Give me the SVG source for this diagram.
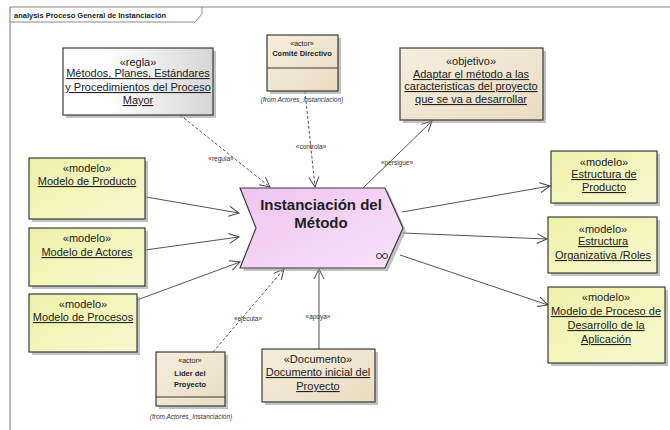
<svg xmlns="http://www.w3.org/2000/svg" width="670" height="430" viewBox="0 0 670 430">
<defs>
<linearGradient id="gY" x1="0" y1="0" x2="1" y2="1"><stop offset="0" stop-color="#eef1a8"/><stop offset="1" stop-color="#f7f8d0"/></linearGradient>
<linearGradient id="gT" x1="0" y1="0" x2="1" y2="1"><stop offset="0" stop-color="#f6eedd"/><stop offset="1" stop-color="#e9dcc3"/></linearGradient>
<linearGradient id="gW" x1="0" y1="0" x2="1" y2="0"><stop offset="0.3" stop-color="#ffffff"/><stop offset="1" stop-color="#d6d6d6"/></linearGradient>
<linearGradient id="gP" x1="0" y1="0" x2="1" y2="1"><stop offset="0" stop-color="#eec4f0"/><stop offset="1" stop-color="#f8e2fa"/></linearGradient>
<marker id="open" viewBox="0 0 12 12" refX="11" refY="6" markerWidth="12" markerHeight="12" markerUnits="userSpaceOnUse" orient="auto">
<path d="M1,1 L11,6 L1,11" fill="none" stroke="#444" stroke-width="1"/>
</marker>
</defs>
<style>
text{font-family:"Liberation Sans",Arial,sans-serif;fill:#222;text-anchor:middle}
.box{stroke:#3a3a3a;stroke-width:1.2}
.sh{fill:#9a9a9a;opacity:.6}
.t{font-size:11px}
.u{text-decoration:underline}
.s{font-size:7px}
.sb{font-size:7.5px;font-weight:bold}
.lbl{font-size:6.5px;fill:#333}
.from{font-size:6.5px;font-style:italic;fill:#333}
.c{fill:none;stroke:#555;stroke-width:1;marker-end:url(#open)}
.d{stroke-dasharray:3,2}
.sep{stroke:#3a3a3a;stroke-width:1}
</style>
<g id="frame">
<path d="M10,430 L10,7 L670,7" fill="none" stroke="#8a8a8a" stroke-width="1.2"/>
<path d="M10,22 L195,22 L202,14 L202,7" fill="none" stroke="#8a8a8a" stroke-width="1"/>
<text x="14" y="18" style="font-size:7.5px;font-weight:bold;text-anchor:start">analysis Proceso General de Instanciación</text>
</g>
<g id="connectors">
<path class="c d" d="M180,115 L270,187"/>
<text class="lbl" x="221" y="161">«regula»</text>
<path class="c d" d="M305,91 L315,187"/>
<text class="lbl" x="311" y="149">«controla»</text>
<path class="c" d="M363,188 L432,121"/>
<text class="lbl" x="397" y="165">«persigue»</text>
<path class="c" d="M146,197 L239,213"/>
<path class="c" d="M145,250 L239,237"/>
<path class="c" d="M137,300 L240,262"/>
<path class="c" d="M402,212 L550,186"/>
<path class="c" d="M403,233 L547,239"/>
<path class="c" d="M400,255 L548,305"/>
<path class="c d" d="M213,352 L284,269"/>
<text class="lbl" x="248" y="321">«ejecuta»</text>
<path class="c" d="M319,349 L319,269"/>
<text class="lbl" x="318" y="319">«apoya»</text>
</g>
<g id="regla">
<rect class="sh" x="66" y="51" width="150" height="67"/>
<rect class="box" x="63" y="48" width="150" height="67" fill="url(#gW)"/>
<text class="t" x="138" y="66">«regla»</text>
<text class="t u" x="138" y="77">Métodos, Planes, Estándares</text>
<text class="t u" x="138" y="91">y Procedimientos del Proceso</text>
<text class="t u" x="138" y="104">Mayor</text>
</g>
<g id="comite">
<rect class="sh" x="270" y="38" width="71" height="56"/>
<rect class="box" x="267" y="35" width="71" height="56" fill="url(#gT)"/>
<line class="sep" x1="267" y1="68" x2="338" y2="68"/>
<text class="s" x="302" y="46">«actor»</text>
<text class="sb" x="302" y="56">Comité Directivo</text>
<text class="from" x="302" y="102">(from Actores_Instanciación)</text>
</g>
<g id="objetivo">
<rect class="sh" x="403" y="51" width="143" height="72"/>
<rect class="box" x="400" y="48" width="143" height="72" fill="url(#gT)"/>
<text class="t" x="471" y="65">«objetivo»</text>
<text class="t u" x="471" y="78">Adaptar el método a las</text>
<text class="t u" x="471" y="90">caracteristicas del proyecto</text>
<text class="t u" x="471" y="103">que se va a desarrollar</text>
</g>
<g id="instanciacion">
<path d="M243,191 L388,191 L406,231 L388,271 L243,271 L259,231 Z" class="sh"/>
<path d="M240,188 L385,188 L403,228 L385,268 L240,268 L256,228 Z" fill="url(#gP)" stroke="#3a3a3a" stroke-width="1.2"/>
<text x="321" y="210" style="font-size:15px;font-weight:bold">Instanciación del</text>
<text x="321" y="228" style="font-size:15px;font-weight:bold">Método</text>
<g fill="none" stroke="#333" stroke-width="1"><circle cx="379" cy="256" r="2.5"/><circle cx="385" cy="256" r="2.5"/><line x1="381.5" y1="256" x2="382.5" y2="256"/></g>
</g>
<g id="modeloProducto">
<rect class="sh" x="32" y="161" width="116" height="61"/>
<rect class="box" x="29" y="158" width="116" height="61" fill="url(#gY)"/>
<text class="t" x="87" y="172">«modelo»</text>
<text class="t u" x="87" y="185">Modelo de Producto</text>
</g>
<g id="modeloActores">
<rect class="sh" x="32" y="231" width="116" height="58"/>
<rect class="box" x="29" y="228" width="116" height="58" fill="url(#gY)"/>
<text class="t" x="87" y="242">«modelo»</text>
<text class="t u" x="87" y="256">Modelo de Actores</text>
</g>
<g id="modeloProcesos">
<rect class="sh" x="32" y="297" width="108" height="58"/>
<rect class="box" x="29" y="294" width="108" height="58" fill="url(#gY)"/>
<text class="t" x="83" y="308">«modelo»</text>
<text class="t u" x="83" y="321">Modelo de Procesos</text>
</g>
<g id="lider">
<rect class="sh" x="159" y="355" width="69" height="54"/>
<rect class="box" x="156" y="352" width="69" height="54" fill="url(#gT)"/>
<line class="sep" x1="156" y1="397" x2="225" y2="397"/>
<text class="s" x="190" y="363">«actor»</text>
<text class="sb" x="190" y="376">Lider del</text>
<text class="sb" x="190" y="387">Proyecto</text>
<text class="from" x="191" y="419">(from Actores_Instanciación)</text>
</g>
<g id="documento">
<rect class="sh" x="265" y="352" width="113" height="53"/>
<rect class="box" x="262" y="349" width="113" height="53" fill="url(#gT)"/>
<text class="t" x="318" y="363">«Documento»</text>
<text class="t u" x="318" y="376">Documento inicial del</text>
<text class="t u" x="318" y="390">Proyecto</text>
</g>
<g id="estructuraProducto">
<rect class="sh" x="554" y="154" width="106" height="52"/>
<rect class="box" x="551" y="151" width="106" height="52" fill="url(#gY)"/>
<text class="t" x="604" y="166">«modelo»</text>
<text class="t u" x="604" y="178">Estructura de</text>
<text class="t u" x="604" y="191">Producto</text>
</g>
<g id="estructuraOrganizativa">
<rect class="sh" x="551" y="220" width="109" height="56"/>
<rect class="box" x="548" y="217" width="109" height="56" fill="url(#gY)"/>
<text class="t" x="603" y="233">«modelo»</text>
<text class="t u" x="603" y="245">Estructura</text>
<text class="t u" x="603" y="259">Organizativa /Roles</text>
</g>
<g id="modeloProcesoDesarrollo">
<rect class="sh" x="551" y="290" width="117" height="76"/>
<rect class="box" x="548" y="287" width="117" height="76" fill="url(#gY)"/>
<text class="t" x="606" y="301">«modelo»</text>
<text class="t u" x="606" y="315">Modelo de Proceso de</text>
<text class="t u" x="606" y="329">Desarrollo de la</text>
<text class="t u" x="606" y="343">Aplicación</text>
</g>
</svg>
